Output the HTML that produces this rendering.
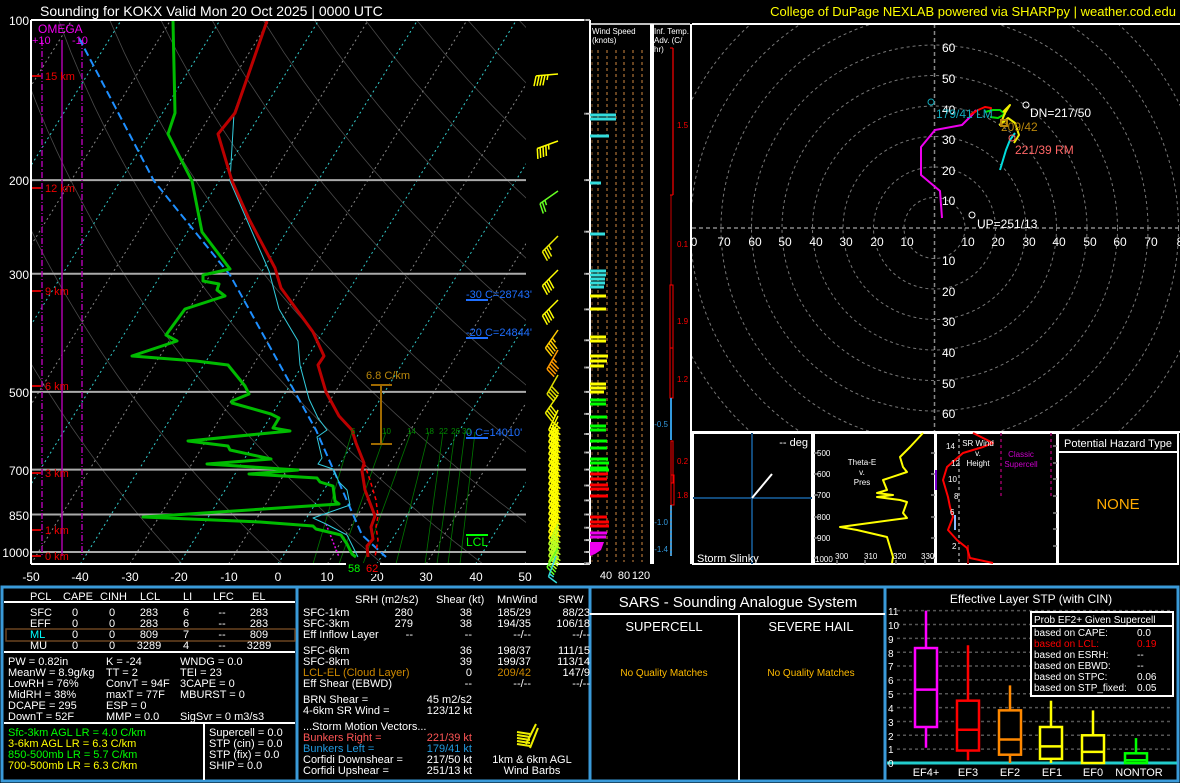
<!DOCTYPE html>
<html><head><meta charset="utf-8"><style>
html,body{margin:0;padding:0;background:#000;}
svg{display:block;font-family:"Liberation Sans",sans-serif;}
</style></head><body>
<svg id="s" width="1180" height="783" viewBox="0 0 1180 783" xmlns="http://www.w3.org/2000/svg">
<rect width="1180" height="783" fill="#000"/>
<defs><clipPath id="ck"><rect x="31" y="20" width="495" height="544"/></clipPath>
<clipPath id="ch"><rect x="692" y="25" width="488" height="406"/></clipPath></defs>
<g id="gen"></g>
<text x="40" y="16" fill="#fff" font-size="14">Sounding for KOKX Valid  Mon 20 Oct 2025 | 0000 UTC</text>
<text x="1176" y="16" fill="#ff0" font-size="13" text-anchor="end">College of DuPage NEXLAB powered via SHARPpy | weather.cod.edu</text>
<g fill="#fff" font-size="12" text-anchor="end">
<text x="29" y="25">100</text><text x="29" y="185">200</text><text x="29" y="279">300</text><text x="29" y="397">500</text><text x="29" y="475">700</text><text x="29" y="520">850</text><text x="29" y="557">1000</text></g>
<g fill="#fff" font-size="12" text-anchor="middle">
<text x="31" y="581">-50</text><text x="80" y="581">-40</text><text x="130" y="581">-30</text><text x="179" y="581">-20</text><text x="229" y="581">-10</text><text x="278" y="581">0</text><text x="327" y="581">10</text><text x="377" y="581">20</text><text x="426" y="581">30</text><text x="476" y="581">40</text><text x="525" y="581">50</text></g>
<g fill="#e00" font-size="11">
<text x="45" y="80">15 km</text><text x="45" y="192">12 km</text><text x="45" y="295">9 km</text><text x="45" y="390">6 km</text><text x="45" y="477">3 km</text><text x="45" y="534">1 km</text><text x="45" y="560">0 km</text></g>
<text x="38" y="33" fill="#e0e" font-size="12">OMEGA</text>
<text x="32" y="44" fill="#e0e" font-size="11">+10</text><text x="72" y="44" fill="#e0e" font-size="11">-10</text>
<text x="366" y="379" fill="#b8860b" font-size="11">6.8 C/km</text>
<g fill="#1e6fff" font-size="11"><text x="466" y="298">-30 C=28743'</text><text x="466" y="336">-20 C=24844'</text><text x="466" y="436">0 C=14010'</text></g>
<text x="466" y="546" fill="#0f0" font-size="12">LCL</text>
<g fill="#080" font-size="8"><text x="351" y="434">6</text><text x="382" y="434">10</text><text x="407" y="434">14</text><text x="425" y="434">18</text><text x="439" y="434">22</text><text x="451" y="434">26</text><text x="462" y="434">30</text></g>
<rect x="346" y="563" width="34" height="11" fill="#000"/>
<text x="348" y="572" fill="#0f0" font-size="11">58</text><text x="366" y="572" fill="#f00" font-size="11">62</text>
<text x="592" y="34" fill="#fff" font-size="8">Wind Speed</text><text x="592" y="43" fill="#fff" font-size="8">(knots)</text>
<g fill="#fff" font-size="11" text-anchor="middle"><text x="606" y="579">40</text><text x="624" y="579">80</text><text x="641" y="579">120</text></g>
<text x="654" y="34" fill="#fff" font-size="8">Inf. Temp.</text><text x="654" y="43" fill="#fff" font-size="8">Adv. (C/</text><text x="654" y="52" fill="#fff" font-size="8">hr)</text>
<g font-size="8" fill="#f00"><text x="677" y="128">1.5</text><text x="677" y="247">0.1</text><text x="677" y="324">1.9</text><text x="677" y="382">1.2</text><text x="677" y="464">0.2</text><text x="677" y="498">1.8</text></g>
<g font-size="8" fill="#39d" text-anchor="end"><text x="668" y="427">-0.5</text><text x="668" y="525">-1.0</text><text x="668" y="552">-1.4</text></g>
<g fill="#fff" font-size="12">
<text x="942" y="52">60</text><text x="942" y="83">50</text><text x="942" y="114">40</text><text x="942" y="144">30</text><text x="942" y="175">20</text><text x="942" y="205">10</text>
<text x="942" y="265">10</text><text x="942" y="296">20</text><text x="942" y="326">30</text><text x="942" y="357">40</text><text x="942" y="388">50</text><text x="942" y="418">60</text></g>
<g fill="#fff" font-size="12" text-anchor="middle">
<text x="694" y="246">0</text><text x="724" y="246">70</text><text x="755" y="246">60</text><text x="785" y="246">50</text><text x="816" y="246">40</text><text x="846" y="246">30</text><text x="877" y="246">20</text><text x="907" y="246">10</text>
<text x="968" y="246">10</text><text x="998" y="246">20</text><text x="1029" y="246">30</text><text x="1059" y="246">40</text><text x="1090" y="246">50</text><text x="1120" y="246">60</text><text x="1151" y="246">70</text><text x="1180" y="246">8</text></g>
<text x="936" y="118" fill="#1ab" font-size="12">179/41 LM</text>
<text x="1030" y="117" fill="#fff" font-size="12">DN=217/50</text>
<text x="1001" y="131" fill="#b8860b" font-size="12">209/42</text>
<text x="1015" y="154" fill="#f66" font-size="12">221/39 RM</text>
<text x="977" y="228" fill="#fff" font-size="12">UP=251/13</text>
<text x="808" y="446" fill="#fff" font-size="11" text-anchor="end">-- deg</text>
<text x="697" y="562" fill="#fff" font-size="11">Storm Slinky</text>
<g fill="#fff" font-size="8"><text x="817" y="456">500</text><text x="817" y="477">600</text><text x="817" y="498">700</text><text x="817" y="520">800</text><text x="817" y="541">900</text><text x="815" y="562">1000</text>
<text x="835" y="559">300</text><text x="864" y="559">310</text><text x="893" y="559">320</text><text x="921" y="559">330</text>
<text x="862" y="465" text-anchor="middle">Theta-E</text><text x="862" y="475" text-anchor="middle">v.</text><text x="862" y="485" text-anchor="middle">Pres</text>
<text x="946" y="449">14</text><text x="951" y="466">12</text><text x="948" y="482">10</text><text x="954" y="499">8</text><text x="950" y="515">6</text><text x="952" y="549">2</text>
<text x="978" y="446" text-anchor="middle">SR Wind</text><text x="978" y="456" text-anchor="middle">v.</text><text x="978" y="466" text-anchor="middle">Height</text></g>
<g fill="#c0c" font-size="8" text-anchor="middle"><text x="1021" y="457">Classic</text><text x="1021" y="467">Supercell</text></g>
<text x="1118" y="447" fill="#fff" font-size="11" text-anchor="middle">Potential Hazard Type</text>
<text x="1118" y="509" fill="#fa0" font-size="15" text-anchor="middle">NONE</text>
<g fill="#fff" font-size="11">
<text x="30" y="600">PCL</text><text x="63" y="600">CAPE</text><text x="100" y="600">CINH</text><text x="140" y="600">LCL</text><text x="183" y="600">LI</text><text x="213" y="600">LFC</text><text x="252" y="600">EL</text>
<text x="30" y="616">SFC</text><text x="30" y="627">EFF</text><text x="30" y="649">MU</text>
<g text-anchor="middle"><text x="75" y="616">0</text><text x="112" y="616">0</text><text x="149" y="616">283</text><text x="186" y="616">6</text><text x="222" y="616">--</text><text x="259" y="616">283</text>
<text x="75" y="627">0</text><text x="112" y="627">0</text><text x="149" y="627">283</text><text x="186" y="627">6</text><text x="222" y="627">--</text><text x="259" y="627">283</text>
<text x="75" y="638">0</text><text x="112" y="638">0</text><text x="149" y="638">809</text><text x="186" y="638">7</text><text x="222" y="638">--</text><text x="259" y="638">809</text>
<text x="75" y="649">0</text><text x="112" y="649">0</text><text x="149" y="649">3289</text><text x="186" y="649">4</text><text x="222" y="649">--</text><text x="259" y="649">3289</text></g>
<text x="8" y="665">PW = 0.82in</text><text x="8" y="676">MeanW = 8.9g/kg</text><text x="8" y="687">LowRH = 76%</text><text x="8" y="698">MidRH = 38%</text><text x="8" y="709">DCAPE = 295</text><text x="8" y="720">DownT = 52F</text>
<text x="106" y="665">K = -24</text><text x="106" y="676">TT = 2</text><text x="106" y="687">ConvT = 94F</text><text x="106" y="698">maxT = 77F</text><text x="106" y="709">ESP = 0</text><text x="106" y="720">MMP = 0.0</text>
<text x="180" y="665">WNDG = 0.0</text><text x="180" y="676">TEI = 23</text><text x="180" y="687">3CAPE = 0</text><text x="180" y="698">MBURST = 0</text><text x="180" y="720">SigSvr = 0 m3/s3</text>
<text x="209" y="736">Supercell = 0.0</text><text x="209" y="747">STP (cin) = 0.0</text><text x="209" y="758">STP (fix) = 0.0</text><text x="209" y="769">SHIP = 0.0</text>
</g>
<text x="30" y="638" fill="#0ff" font-size="11">ML</text>
<text x="8" y="736" fill="#0f0" font-size="11">Sfc-3km AGL LR = 4.0 C/km</text>
<text x="8" y="747" fill="#ff0" font-size="11">3-6km AGL LR = 6.3 C/km</text>
<text x="8" y="758" fill="#0f0" font-size="11">850-500mb LR = 5.7 C/km</text>
<text x="8" y="769" fill="#ff0" font-size="11">700-500mb LR = 6.3 C/km</text>
<g fill="#fff" font-size="11">
<text x="355" y="603">SRH (m2/s2)</text><text x="436" y="603">Shear (kt)</text><text x="497" y="603">MnWind</text><text x="558" y="603">SRW</text>
<text x="303" y="616">SFC-1km</text><text x="303" y="627">SFC-3km</text><text x="303" y="638">Eff Inflow Layer</text><text x="303" y="654">SFC-6km</text><text x="303" y="665">SFC-8km</text><text x="303" y="687">Eff Shear (EBWD)</text>
<text x="303" y="703">BRN Shear =</text><text x="303" y="714">4-6km SR Wind =</text><text x="303" y="730">...Storm Motion Vectors...</text>
<text x="303" y="763">Corfidi Downshear =</text><text x="303" y="774">Corfidi Upshear =</text>
<g text-anchor="end">
<text x="413" y="616">280</text><text x="472" y="616">38</text><text x="531" y="616">185/29</text><text x="590" y="616">88/23</text>
<text x="413" y="627">279</text><text x="472" y="627">38</text><text x="531" y="627">194/35</text><text x="590" y="627">106/18</text>
<text x="413" y="638">--</text><text x="472" y="638">--</text><text x="531" y="638">--/--</text><text x="590" y="638">--/--</text>
<text x="472" y="654">36</text><text x="531" y="654">198/37</text><text x="590" y="654">111/15</text>
<text x="472" y="665">39</text><text x="531" y="665">199/37</text><text x="590" y="665">113/14</text>
<text x="472" y="676">0</text><text x="590" y="676">147/9</text>
<text x="472" y="687">--</text><text x="531" y="687">--/--</text><text x="590" y="687">--/--</text>
<text x="472" y="703">45 m2/s2</text><text x="472" y="714">123/12 kt</text>
<text x="472" y="763">217/50 kt</text><text x="472" y="774">251/13 kt</text></g>
<text x="532" y="763" text-anchor="middle">1km &amp; 6km AGL</text><text x="532" y="774" text-anchor="middle">Wind Barbs</text>
</g>
<text x="303" y="676" fill="#c80" font-size="11">LCL-EL (Cloud Layer)</text>
<text x="531" y="676" fill="#c80" font-size="11" text-anchor="end">209/42</text>
<text x="303" y="741" fill="#f55" font-size="11">Bunkers Right =</text><text x="472" y="741" fill="#f55" font-size="11" text-anchor="end">221/39 kt</text>
<text x="303" y="752" fill="#29d" font-size="11">Bunkers Left =</text><text x="472" y="752" fill="#29d" font-size="11" text-anchor="end">179/41 kt</text>
<text x="738" y="607" fill="#fff" font-size="15" text-anchor="middle">SARS - Sounding Analogue System</text>
<text x="664" y="631" fill="#fff" font-size="13" text-anchor="middle">SUPERCELL</text>
<text x="811" y="631" fill="#fff" font-size="13" text-anchor="middle">SEVERE HAIL</text>
<text x="664" y="676" fill="#fb0" font-size="10" text-anchor="middle">No Quality Matches</text>
<text x="811" y="676" fill="#fb0" font-size="10" text-anchor="middle">No Quality Matches</text>
<text x="1031" y="603" fill="#fff" font-size="12" text-anchor="middle">Effective Layer STP (with CIN)</text>
<g fill="#fff" font-size="10"><text x="888" y="615">11</text><text x="888" y="629">10</text><text x="888" y="643">9</text><text x="888" y="657">8</text><text x="888" y="670">7</text><text x="888" y="684">6</text><text x="888" y="698">5</text><text x="888" y="712">4</text><text x="888" y="726">3</text><text x="888" y="740">2</text><text x="888" y="753">1</text><text x="888" y="767">0</text></g>
<g fill="#fff" font-size="11" text-anchor="middle"><text x="926" y="776">EF4+</text><text x="968" y="776">EF3</text><text x="1010" y="776">EF2</text><text x="1052" y="776">EF1</text><text x="1093" y="776">EF0</text><text x="1139" y="776">NONTOR</text></g>
<g fill="#fff" font-size="10"><text x="1034" y="623">Prob EF2+ Given Supercell</text><text x="1034" y="636">based on CAPE:</text><text x="1034" y="658">based on ESRH:</text><text x="1034" y="669">based on EBWD:</text><text x="1034" y="680">based on STPC:</text><text x="1034" y="691">based on STP_fixed:</text>
<text x="1137" y="636">0.0</text><text x="1137" y="658">--</text><text x="1137" y="669">--</text><text x="1137" y="680">0.06</text><text x="1137" y="691">0.05</text></g>
<text x="1034" y="647" fill="#f00" font-size="10">based on LCL:</text><text x="1137" y="647" fill="#f00" font-size="10">0.19</text>
</svg>
<script>
(function(){
var s='';
function L(x1,y1,x2,y2,c,w,d){s+='<line x1="'+x1.toFixed(1)+'" y1="'+y1.toFixed(1)+'" x2="'+x2.toFixed(1)+'" y2="'+y2.toFixed(1)+'" stroke="'+c+'" stroke-width="'+(w||1)+'"'+(d?' stroke-dasharray="'+d+'"':'')+'/>';}
function P(pts,c,w,d){s+='<polyline points="'+pts.map(function(p){return p[0].toFixed(1)+','+p[1].toFixed(1)}).join(' ')+'" fill="none" stroke="'+c+'" stroke-width="'+(w||1)+'" stroke-linejoin="round"'+(d?' stroke-dasharray="'+d+'"':'')+'/>';}
function R(x,y,w,h,c,f,sw){s+='<rect x="'+x+'" y="'+y+'" width="'+w+'" height="'+h+'" fill="'+(f||'none')+'" stroke="'+(c||'none')+'" stroke-width="'+(sw||1)+'"/>';}
function Y(p){return 20+532*Math.log10(p/100);}
function X(T,y){return 278+4.94*T+0.62*(564-y);}
s+='<g clip-path="url(#ck)">';
for(var th=250;th<=490;th+=20){var pts=[];for(var p=1060;p>=100;p-=15){var T=th*Math.pow(p/1000,0.286)-273.15;var y=Y(p);pts.push([X(T,y),y]);}P(pts,'#4a4a4a',0.8);}
for(var T=-130;T<=50;T+=10){var c=(T%20==0)?'#3cc':'#888';L(X(T,564),564,X(T,20),20,c,1,'2,3');}
var mr=[[313,352],[339,386],[363,411],[396,429],[425,443],[437,455],[448,465],[460,475]];
mr.forEach(function(m){L(m[0],564,m[1],432,'#070',0.8);});
[200,300,500,700,850,1000].forEach(function(p){L(31,Y(p),526,Y(p),'#aaa',2);});
L(42,40,42,556,'#a0a',1.5,'6,2,1,2');L(82,40,82,556,'#a0a',1.5,'6,2,1,2');L(62,40,62,556,'#a0a',1.5);
P([[79,38],[154,181],[230,275],[316,430],[362,535],[386,557]],'#1e8fff',2,'8,4');
P([[326,524],[339,557]],'#e0e',1.5,'2,2');
P([[267,21],[234,113],[230,181],[269,271],[279,309],[298,341],[300,365],[309,399],[318,418],[327,430],[317,437],[322,458],[318,464],[333,469],[339,482],[347,490],[350,505],[313,518],[326,524],[347,535],[358,557]],'#3cd',1);
P([[364,463],[370,480],[376,500],[378,516],[376,527],[378,540],[375,557]],'#f00',1.5,'4,3');
P([[267,21],[235,113],[218,134],[232,181],[249,219],[275,268],[281,288],[313,332],[324,356],[318,365],[326,392],[339,416],[352,430],[356,443],[364,463],[362,471],[365,490],[375,516],[371,527],[373,539],[367,546],[368,557]],'#b00',3);
P([[173,21],[175,113],[168,134],[192,181],[202,232],[230,269],[203,275],[203,281],[219,284],[217,290],[225,296],[185,309],[166,335],[177,341],[132,356],[196,361],[228,365],[245,386],[249,394],[232,401],[232,403],[271,414],[279,418],[273,428],[290,431],[188,441],[228,446],[230,450],[271,459],[207,464],[298,470],[249,474],[317,478],[320,482],[333,486],[335,501],[339,504],[143,517],[260,522],[313,526],[316,529],[341,535],[347,544],[352,554],[356,557]],'#0b0',3);
s+='</g>';
[80,192,295,390,477,534,560].forEach(function(y){L(31,y-4,41,y-4,'#c00',2);});
L(381,385,381,444,'#a06a00',2);L(371,385,392,385,'#a06a00',2);L(371,444,392,444,'#a06a00',2);
L(466,300,488,300,'#1e6fff',2);L(466,338,488,338,'#1e6fff',2);L(466,438,488,438,'#1e6fff',2);L(466,535,488,535,'#0f0',2);
L(31,20,590,20,'#fff',2);L(31,20,31,564,'#fff',2);L(31,564,590,564,'#fff',2);
for(var p=100;p<=1050;p+=50){L(584,Y(p),590,Y(p),'#888',2);}
function barb(x,y,dir,spd,col){var r=dir*Math.PI/180;var dx=Math.sin(r),dy=-Math.cos(r);var len=22;var ex=x+dx*len,ey=y+dy*len;L(x,y,ex,ey,col,1.5);var px=dy,py=-dx;var n=Math.floor(spd/10),h=(spd%10)>=5;var i,bx,by;for(i=0;i<n;i++){bx=ex-dx*i*3;by=ey-dy*i*3;L(bx,by,bx+px*10+dx*3,by+py*10+dy*3,col,1.5);}if(h){bx=ex-dx*n*3;by=ey-dy*n*3;L(bx,by,bx+px*5+dx*1.5,by+py*5+dy*1.5,col,1.5);}}
var bl=[[74,265,45,'#ff0'],[141,250,45,'#ff0'],[191,235,25,'#6f2'],[236,225,35,'#ee0'],[270,225,40,'#ff0'],[300,225,40,'#ff0'],[330,215,45,'#fc0'],[350,210,45,'#f90'],[375,210,40,'#dd0'],[395,215,40,'#ee0']];
for(var y=410;y<=545;y+=6){bl.push([y,205,40,y>520?'#bf2':(y%12?'#ff0':'#cf0')]);}
bl.forEach(function(b){barb(558,b[0],b[1],b[2],b[3]);});
barb(558,548,210,20,'#6f2');barb(556,556,200,15,'#3dd');
L(590,20,590,564,'#fff',2);L(651,24,651,564,'#fff',2);L(590,24,690,24,'#fff',1.5);
[598,607,616,624,633,642].forEach(function(x){L(x,50,x,562,'#8b5a2b',1.5,'3,3');});
L(592,50,592,562,'#8b5a2b',1,'3,3');
var bars=[[115,616,'#3dd'],[119,616,'#3dd'],[136,609,'#3dd'],[183,601,'#3dd'],[234,605,'#3dd'],[271,606,'#3dd'],[275,606,'#3dd'],[279,605,'#3dd'],[283,605,'#3dd'],[287,604,'#3dd'],[296,606,'#ff0'],[309,606,'#ff0'],[337,606,'#ff0'],[341,606,'#ff0'],[356,608,'#ff0'],[361,607,'#ff0'],[366,604,'#ff0'],[384,606,'#ff0'],[388,606,'#ff0'],[392,604,'#ff0'],[400,606,'#0f0'],[404,606,'#0f0'],[417,607,'#0f0'],[426,606,'#0f0'],[430,606,'#0f0'],[441,607,'#0f0'],[448,607,'#0f0'],[459,608,'#0f0'],[463,609,'#0f0'],[468,608,'#0f0'],[470,609,'#0f0'],[474,608,'#f00'],[479,607,'#f00'],[485,608,'#f00'],[489,609,'#f00'],[496,608,'#f00'],[517,607,'#f00'],[522,609,'#f00'],[526,609,'#f00'],[533,607,'#e0e'],[537,606,'#e0e']];
bars.forEach(function(b){L(590,b[0],b[1],b[0],b[2],3);});
s+='<polygon points="590,542 604,542 601,550 595,554 590,556" fill="#e0e"/>';
for(var p=100;p<=1050;p+=50){L(586,Y(p),590,Y(p),'#ccc',1.5);}
L(653,24,653,564,'#fff',2);L(691,24,691,564,'#fff',2);
L(673,48,673,195,'#f00',1.2);L(670,48,673,48,'#f00',1);L(670,195,673,195,'#f00',1);
L(671,195,671,285,'#f00',0.8);
R(670,285,3,63,'#f00');R(670,348,3,50,'#f00');
L(671,398,671,440,'#39d',2);R(671,441,2,42,'#f00');R(671,475,3,30,'#f00');L(671,505,671,556,'#39d',2);L(671,505,671,556,'#888',1,'2,2');
L(692,24,1180,24,'#fff',2);L(692,432,1180,432,'#fff',2);
s+='<g clip-path="url(#ch)">';
var cx=934.5,cy=228;
for(var k=1;k<=9;k++){s+='<circle cx="'+cx+'" cy="'+cy+'" r="'+(k*30.5)+'" fill="none" stroke="#777" stroke-width="1" stroke-dasharray="3,3"/>';}
L(692,cy,1180,cy,'#888',1.5,'4,3');L(cx,24,cx,432,'#888',1.5,'4,3');
s+='</g>';
P([[942,218],[940,191],[921,175],[921,147],[935,130],[962,125],[972,115],[976,110]],'#e0e',2);
P([[970,115],[978,110],[985,107],[991,108],[990,113]],'#f00',2);
P([[985,112],[993,110],[1000,110],[1005,114],[998,118],[990,117]],'#0d0',2);
P([[1003,112],[1010,105],[1005,113],[1000,125],[1008,118],[1015,123],[1019,135],[1014,143]],'#ee0',2);
P([[1000,170],[1006,150],[1010,140],[1015,133]],'#0dd',2);
R(1001,120,6,6,'#b8860b',null,2);
s+='<circle cx="1026" cy="105" r="3" fill="none" stroke="#fff"/><circle cx="972" cy="215" r="3" fill="none" stroke="#fff"/><circle cx="931" cy="102" r="3" fill="none" stroke="#1ab"/><circle cx="1012" cy="138" r="3" fill="none" stroke="#f66"/>';
R(693,433,119,131,'#fff',null,2);R(814,433,121,131,'#fff',null,2);R(936,433,121,131,'#fff',null,2);R(1058,433,120,131,'#fff',null,2);
L(693,498,812,498,'#124a7a',2);L(752,433,752,564,'#124a7a',2);L(752,498,772,474,'#fff',2);
[453,474,495,517,538,558].forEach(function(y){L(814,y,818,y,'#888',1.5);L(931,y,935,y,'#888',1.5);});
[837,865,896,925].forEach(function(x){L(x,560,x,564,'#888',1.5);});
P([[923,433],[910,447],[900,457],[903,467],[907,472],[883,480],[887,490],[877,493],[893,495],[877,497],[900,500],[907,502],[903,513],[907,518],[840,527],[857,530],[887,537],[890,547],[893,557],[892,563]],'#ff0',2);
L(959,433,959,564,'#999',1.5,'3,3');L(1001,433,1001,497,'#906',1.5,'3,3');L(1051,433,1051,497,'#906',1.5,'3,3');
[446,463,479,496,513,529,546].forEach(function(y){L(1053,y,1057,y,'#888',1.5);});
L(936,470,936,490,'#70c',2);L(955,515,955,530,'#8bf',2);L(968,545,968,564,'#900',2);
P([[973,433],[993,443],[983,447],[963,453],[947,467],[943,480],[948,497],[950,507],[953,517],[948,530],[957,540],[967,548],[970,558],[993,563]],'#f00',2);
L(1058,452,1178,452,'#fff',2);
var bc='#3a9ad9';
R(2,587,1176,194,bc,null,3);L(297,587,297,781,bc,3);L(590,587,590,781,bc,3);L(885,587,885,781,bc,3);
L(4,602,295,602,'#fff',2);L(4,652,295,652,'#fff',2);L(4,723,295,723,'#fff',2);L(204,723,204,780,'#fff',2);
R(6,629,289,12,'#6b4420',null,1.5);
L(590,614,885,614,'#fff',2);L(739,614,739,780,'#fff',2);
for(var i=0;i<5;i++){L(517,732+i*3,530,734+i*3,'#ee0',2);}L(530,748,538,728,'#ee0',2);L(526,744,536,724,'#ee0',2);
for(var v=1;v<=11;v++){var yy=763-v*13.85;L(897,yy,1172,yy,'#555',1.5,'3,3');}
L(887,763,1177,763,'#2cc',3);
function box(cx,w0,w1,b0,b1,m,col){function yv(v){return 763-v*13.85;}L(cx,yv(w0),cx,yv(w1),col,2.5);R(cx-11,yv(b1),22,yv(b0)-yv(b1),col,'#000',2.5);L(cx-11,yv(m),cx+11,yv(m),col,2.5);}
box(926,1.1,11,2.6,8.3,5.3,'#f0f');box(968,0.2,8.5,0.9,4.5,2.4,'#f00');box(1010,0,5.6,0.6,3.8,1.7,'#f80');box(1051,0,4.5,0.3,2.6,1.2,'#ff0');box(1093,0,3.8,0,2.0,0.8,'#ff0');box(1136,0,1.8,0,0.7,0.2,'#0f0');
R(1031,612,142,84,'#fff','#000',2);L(1031,626,1173,626,'#fff',2);
document.getElementById('gen').innerHTML=s;
})();
</script>
</body></html>
